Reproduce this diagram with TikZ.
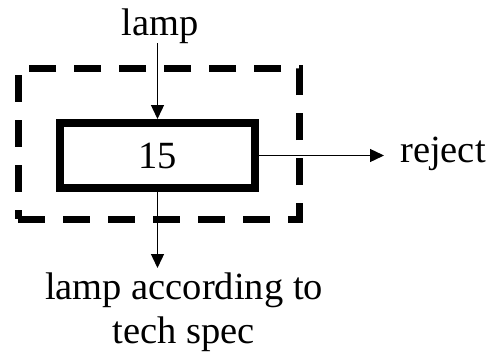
\documentclass[tikz,border=0pt]{standalone}
\usepackage{fontspec}
\setmainfont{Liberation Serif}
\usetikzlibrary{arrows.meta}
\begin{document}
\begin{tikzpicture}[x=1pt,y=-1pt,
  every node/.style={font=\fontsize{38.5}{44}\selectfont, inner sep=0pt},
  conn/.style={line width=1.4pt, -{Triangle[width=13pt,length=14pt]}},
  stepbox/.style={draw, line width=8pt, minimum width=195pt, minimum height=65pt},
  groupbox/.style={draw, line width=7pt, dash pattern=on 27pt off 18pt, minimum width=281pt, minimum height=151pt}]
\useasboundingbox (0,0) rectangle (491,356);
\node[groupbox] (grp) at (158.5,143.5) {};
\node[stepbox] (box) at (157.5,155.5) {15};
\node[anchor=base] (lamp) at (160,35) {lamp};
\node[anchor=base west] (rej) at (400,162) {reject};
\node[anchor=north, align=center] (out) at (184,273) {lamp according to\\tech spec};
\draw[conn] (lamp.south -| box.north) -- (box.north);
\draw[conn, shorten >=16pt] (box.east) -- (rej.west |- box.east);
\draw[conn, shorten >=5pt] (box.south) -- (box.south |- out.north);
\end{tikzpicture}
\end{document}
